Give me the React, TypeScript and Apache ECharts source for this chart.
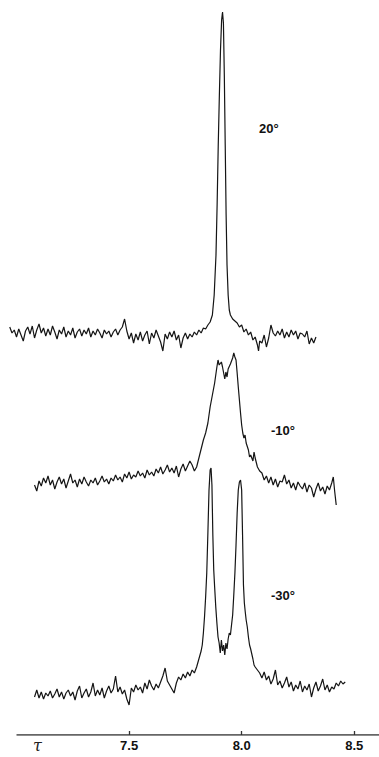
import React, { useEffect, useRef } from "react";
import * as echarts from "echarts";

// chemical shift τ (ppm) and intensity (arbitrary units) for each temperature trace
const trace20: [number, number][] = [
  [6.97, 8], [6.98, 2], [6.99, 5], [7.0, -2], [7.01, 6], [7.02, 0], [7.03, -6], [7.04, 4], [7.05, 8], [7.06, 1],
  [7.07, 9], [7.08, -3], [7.09, 5], [7.1, 11], [7.11, 2], [7.12, 7], [7.13, -1], [7.14, 6], [7.15, 0], [7.16, 9],
  [7.17, 3], [7.18, -4], [7.19, 5], [7.2, 1], [7.21, 8], [7.22, -2], [7.23, 4], [7.24, 0], [7.25, 7], [7.26, -3],
  [7.27, 3], [7.28, 6], [7.29, -1], [7.3, 5], [7.31, 1], [7.32, 7], [7.33, -2], [7.34, 4], [7.35, 0], [7.36, 6],
  [7.37, 2], [7.38, -3], [7.39, 5], [7.4, 1], [7.41, 4], [7.42, -2], [7.43, 3], [7.44, 6], [7.45, 0], [7.46, 5],
  [7.47, 8], [7.48, 16], [7.49, 4], [7.5, -4], [7.51, 2], [7.52, -8], [7.53, 1], [7.54, -5], [7.55, 3], [7.56, -6],
  [7.57, 0], [7.58, 4], [7.59, -9], [7.6, 2], [7.61, -3], [7.62, 5], [7.63, -1], [7.64, -7], [7.65, -16], [7.66, 1],
  [7.67, -4], [7.68, 3], [7.69, -2], [7.7, 4], [7.71, -5], [7.72, 0], [7.73, -13], [7.74, -3], [7.75, 2], [7.76, -4],
  [7.77, 1], [7.78, -2], [7.79, 3], [7.8, 0], [7.81, 5], [7.82, 2], [7.83, 7], [7.84, 6], [7.85, 10], [7.86, 13],
  [7.87, 20], [7.878, 40], [7.886, 80], [7.891, 130], [7.896, 190], [7.901, 240], [7.906, 285], [7.911, 315],
  [7.915, 323], [7.919, 312], [7.923, 260], [7.927, 190], [7.931, 120], [7.935, 70], [7.94, 40], [7.945, 25],
  [7.95, 20], [7.96, 16], [7.97, 14], [7.98, 12], [7.99, 8], [8.0, 10], [8.01, 3], [8.02, 6], [8.03, 0], [8.04, 3],
  [8.05, -5], [8.06, -2], [8.07, -10], [8.075, -16], [8.08, -6], [8.09, -8], [8.1, 0], [8.11, -12], [8.12, -3],
  [8.13, 10], [8.14, 2], [8.15, -1], [8.16, 4], [8.17, 0], [8.18, 6], [8.19, -3], [8.2, 3], [8.21, -2], [8.22, 5],
  [8.23, 0], [8.24, 4], [8.25, -4], [8.26, 2], [8.27, 1], [8.28, -2], [8.29, 4], [8.3, -9], [8.31, -3], [8.32, -8],
  [8.33, -2],
];

const traceMinus10: [number, number][] = [
  [7.08, 0], [7.09, -6], [7.1, 4], [7.11, -1], [7.12, 7], [7.13, 2], [7.14, 9], [7.15, 0], [7.16, 5], [7.17, -4],
  [7.18, 3], [7.19, 8], [7.2, 1], [7.21, 6], [7.22, -3], [7.23, 4], [7.24, 11], [7.25, 2], [7.26, 5], [7.27, -2],
  [7.28, 6], [7.29, 1], [7.3, 8], [7.31, 3], [7.32, -1], [7.33, 5], [7.34, 2], [7.35, 7], [7.36, 0], [7.37, 4],
  [7.38, 9], [7.39, 3], [7.4, 6], [7.41, 1], [7.42, 7], [7.43, 4], [7.44, 10], [7.45, 5], [7.46, 8], [7.47, 3],
  [7.48, 11], [7.49, 7], [7.5, 13], [7.51, 6], [7.52, 10], [7.53, 8], [7.54, 14], [7.55, 9], [7.56, 12], [7.57, 7],
  [7.58, 15], [7.59, 10], [7.6, 13], [7.61, 9], [7.62, 16], [7.63, 12], [7.64, 18], [7.65, 11], [7.66, 15], [7.67, 20],
  [7.68, 13], [7.69, 17], [7.7, 12], [7.71, 19], [7.72, 8], [7.73, 16], [7.74, 21], [7.75, 14], [7.76, 19], [7.77, 24],
  [7.78, 20], [7.79, 14], [7.8, 18], [7.81, 27], [7.82, 36], [7.83, 45], [7.84, 52], [7.85, 62], [7.86, 78], [7.87, 90],
  [7.88, 102], [7.89, 118], [7.895, 125], [7.9, 120], [7.91, 123], [7.915, 118], [7.92, 112], [7.925, 106], [7.93, 113],
  [7.935, 108], [7.94, 116], [7.95, 121], [7.96, 127], [7.965, 132], [7.97, 128], [7.975, 125], [7.98, 112], [7.985, 98],
  [7.99, 85], [7.995, 72], [8.0, 60], [8.005, 52], [8.01, 47], [8.015, 50], [8.02, 42], [8.03, 35], [8.035, 28],
  [8.04, 30], [8.05, 24], [8.055, 33], [8.06, 27], [8.07, 18], [8.08, 14], [8.09, 12], [8.1, 5], [8.11, 9], [8.12, 2],
  [8.13, 8], [8.14, 0], [8.15, 6], [8.16, -2], [8.17, 4], [8.18, 3], [8.19, 10], [8.2, 1], [8.21, 5], [8.22, -3],
  [8.23, 2], [8.24, -5], [8.25, 3], [8.26, -1], [8.27, -4], [8.28, 2], [8.29, -7], [8.3, 0], [8.31, -3], [8.32, -12],
  [8.33, -4], [8.34, 2], [8.35, -6], [8.36, -2], [8.37, -9], [8.38, -1], [8.39, -5], [8.4, 2], [8.407, 8], [8.413, -6],
  [8.42, -20],
];

const traceMinus30: [number, number][] = [
  [7.08, -2], [7.09, 5], [7.1, -3], [7.11, 3], [7.12, -4], [7.13, 2], [7.14, -1], [7.15, 4], [7.16, -3], [7.17, 1],
  [7.18, 6], [7.19, -2], [7.2, 3], [7.21, -4], [7.22, 2], [7.23, 5], [7.24, -1], [7.25, 3], [7.26, -5], [7.27, 4],
  [7.28, 9], [7.29, -3], [7.3, 2], [7.31, 6], [7.32, -2], [7.33, 3], [7.34, 12], [7.35, -1], [7.36, 5], [7.37, 0],
  [7.38, 7], [7.39, -3], [7.4, 4], [7.41, 9], [7.42, 2], [7.43, 6], [7.44, 19], [7.45, 3], [7.46, 8], [7.47, 1],
  [7.48, 5], [7.49, -4], [7.5, -10], [7.51, 7], [7.52, 3], [7.53, 10], [7.54, 5], [7.55, 8], [7.56, 2], [7.57, 12],
  [7.58, 6], [7.59, 15], [7.6, 9], [7.61, 5], [7.62, 11], [7.63, 7], [7.64, 13], [7.65, 19], [7.66, 27], [7.67, 14],
  [7.68, 10], [7.69, 6], [7.7, 2], [7.71, 12], [7.72, 18], [7.73, 15], [7.74, 21], [7.75, 17], [7.76, 23], [7.77, 19],
  [7.78, 25], [7.79, 22], [7.8, 28], [7.81, 36], [7.82, 44], [7.825, 50], [7.83, 62], [7.835, 78], [7.84, 98],
  [7.845, 122], [7.85, 162], [7.855, 205], [7.86, 225], [7.864, 227], [7.868, 210], [7.872, 160], [7.876, 125],
  [7.88, 108], [7.885, 88], [7.89, 72], [7.895, 58], [7.9, 52], [7.905, 42], [7.91, 55], [7.915, 44], [7.92, 50],
  [7.925, 40], [7.93, 52], [7.935, 46], [7.94, 56], [7.945, 62], [7.95, 60], [7.955, 70], [7.96, 80], [7.965, 100],
  [7.97, 122], [7.975, 150], [7.98, 182], [7.985, 205], [7.99, 213], [7.995, 215], [8.0, 205], [8.004, 160],
  [8.008, 110], [8.012, 92], [8.016, 83], [8.02, 75], [8.025, 68], [8.03, 58], [8.035, 50], [8.04, 46], [8.05, 36],
  [8.055, 30], [8.06, 28], [8.07, 25], [8.08, 22], [8.09, 17], [8.1, 23], [8.11, 15], [8.12, 19], [8.13, 11],
  [8.14, 16], [8.15, 25], [8.16, 10], [8.17, 14], [8.18, 7], [8.19, 12], [8.2, 18], [8.21, 8], [8.22, 13], [8.23, 4],
  [8.24, 10], [8.25, 6], [8.26, 14], [8.27, 3], [8.28, 9], [8.29, 5], [8.3, 11], [8.31, -2], [8.32, 7], [8.33, 13],
  [8.34, 4], [8.35, 9], [8.36, 16], [8.37, 5], [8.38, 10], [8.39, 3], [8.4, 8], [8.41, 6], [8.42, 12], [8.43, 9],
  [8.44, 14], [8.45, 11], [8.46, 13],
];

// vertical display offsets of each trace (same arbitrary units)
const traceNames = ["20°", "-10°", "-30°"];
const traceOffsets = [400, 250, 40];
const tickValues = [7.5, 8.0, 8.5];
// drawn extent of the τ scale line
const scaleStart = 7.0;
const scaleEnd = 8.61;

export default function App() {
  const ref = useRef<HTMLDivElement>(null);
  useEffect(() => {
    if (!ref.current) return;
    const chart = echarts.init(ref.current, undefined, { renderer: "svg" });
    const traces = [trace20, traceMinus10, traceMinus30];
    const font = "'Liberation Sans Narrow', 'Liberation Sans', Arial, sans-serif";
    chart.setOption({
      animation: false,
      backgroundColor: "#ffffff",
      grid: { left: 7.5, right: 0, top: 0, bottom: 22 },
      xAxis: {
        type: "value",
        min: 6.96,
        max: 8.61,
        axisLine: { show: false },
        axisTick: { show: true, inside: true, length: 4, customValues: tickValues, lineStyle: { color: "#333", width: 1.3 } },
        axisLabel: {
          customValues: tickValues,
          formatter: (v: number) => v.toFixed(1),
          color: "#111",
          fontFamily: font,
          fontWeight: "bold",
          fontSize: 13,
          margin: 4,
        },
        splitLine: { show: false },
      },
      yAxis: { type: "value", min: 0, max: 735, show: false },
      series: [
        {
          name: "τ scale",
          type: "line",
          symbol: "none",
          silent: true,
          data: [[scaleStart, 0], [scaleEnd, 0]],
          lineStyle: { color: "#333", width: 1.3 },
        },
        ...traces.map((t, i) => ({
          name: traceNames[i],
          type: "line",
          showSymbol: false,
          symbol: "none",
          data: t.map(([x, y]) => [x, y + traceOffsets[i]]),
          lineStyle: { color: "#151515", width: 1.2 },
        })),
      ],
      graphic: [
        { type: "text", left: 259, top: 122, style: { text: "20°", font: `bold 13px ${font}`, fill: "#111" } },
        { type: "text", left: 271, top: 424, style: { text: "-10°", font: `bold 13px ${font}`, fill: "#111" } },
        { type: "text", left: 271, top: 589, style: { text: "-30°", font: `bold 13px ${font}`, fill: "#111" } },
        { type: "text", left: 33, top: 737, style: { text: "τ", font: `italic 16px 'DejaVu Serif', serif`, fill: "#222" } },
      ],
    });
    return () => chart.dispose();
  }, []);
  return <div ref={ref} style={{ position: "fixed", left: 0, top: 0, width: 379, height: 757, background: "#fff" }} />;
}
